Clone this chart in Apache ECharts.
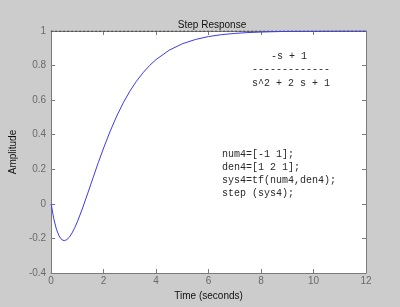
<!DOCTYPE html>
<html><head><meta charset="utf-8">
<script src="https://cdn.jsdelivr.net/npm/echarts@6/dist/echarts.min.js"></script>
<style>html,body{margin:0;padding:0;background:#cccccc;}#c{width:400px;height:307px;}</style>
</head><body><div id="c"></div>
<script>
// time (s) and amplitude
const timeS = [0,0.1,0.2,0.3,0.4,0.5,0.6,0.7,0.8,0.9,1.0,1.2,1.4,1.6,1.8,2.0,2.25,2.5,2.75,3.0,3.25,3.5,3.75,4.0,4.5,5.0,5.5,6.0,6.5,7.0,7.5,8.0,8.5,9.0,10.0,11.0,12.0];
const amplitude = [0,-0.086,-0.146,-0.185,-0.207,-0.213,-0.207,-0.192,-0.168,-0.138,-0.104,-0.024,0.063,0.152,0.240,0.323,0.420,0.508,0.585,0.652,0.709,0.758,0.800,0.835,0.889,0.926,0.951,0.968,0.979,0.986,0.991,0.994,0.996,0.998,0.999,1.0,1.0];
const steadyX = [0, 12];
const steadyY = [1, 1];
const xTicks = {min: 0, max: 12, interval: 2};
const yTicks = {min: -0.4, max: 1, interval: 0.2};
const tfLines = ['-s + 1', '-------------', 's^2 + 2 s + 1'];
const codeLines = ['num4=[-1 1];', 'den4=[1 2 1];', 'sys4=tf(num4,den4);', 'step (sys4);'];
const titleText = 'Step Response';
const xName = 'Time (seconds)';
const yName = 'Amplitude';

const chart = echarts.init(document.getElementById('c'), null, {renderer: 'canvas'});
const axisGrey = '#7a7a7a';
const labelGrey = '#6a6a6a';
const font = 'Liberation Sans, Arial, sans-serif';
const mono = 'Liberation Mono, Courier New, monospace';
function fmt(v){ return (Math.round(v*10)/10).toString(); }
function common(){
  return {
    axisLine: {show: true, onZero: false, lineStyle: {color: axisGrey, width: 1}},
    axisTick: {show: true, inside: true, length: 4, lineStyle: {color: axisGrey}},
    splitLine: {show: false}
  };
}
const graphics = [];
const tfX = [271, 252, 252];
const tfY = [57, 70, 84];
tfLines.forEach((t, i) => graphics.push({type: 'text', left: tfX[i], top: tfY[i] - 6, style: {text: t, font: '10px ' + mono, fill: '#2a2a2a'}}));
codeLines.forEach((t, i) => graphics.push({type: 'text', left: 222, top: 149 + i * 13, style: {text: t, font: '10px ' + mono, fill: '#2a2a2a'}}));
chart.setOption({
  backgroundColor: '#cccccc',
  animation: false,
  title: {text: titleText, left: 207, textAlign: 'center', top: 15, textStyle: {fontSize: 10, fontWeight: 'normal', color: '#111', fontFamily: font}},
  grid: {left: 48, right: 34, top: 31, bottom: 34, show: true, backgroundColor: '#ffffff', borderWidth: 0},
  xAxis: [
    Object.assign({type: 'value', position: 'bottom', min: xTicks.min, max: xTicks.max, interval: xTicks.interval,
      name: xName, nameLocation: 'middle', nameGap: 15, nameTextStyle: {fontSize: 10, color: '#111', fontFamily: font},
      axisLabel: {fontSize: 10, color: labelGrey, margin: 3, fontFamily: font}}, common()),
    Object.assign({type: 'value', position: 'top', min: xTicks.min, max: xTicks.max, interval: xTicks.interval,
      axisLabel: {show: false}}, common())
  ],
  yAxis: [
    Object.assign({type: 'value', position: 'left', min: yTicks.min, max: yTicks.max, interval: yTicks.interval,
      name: yName, nameLocation: 'middle', nameGap: 29, nameTextStyle: {fontSize: 10, color: '#111', fontFamily: font},
      axisLabel: {fontSize: 10, color: labelGrey, margin: 5, fontFamily: font, formatter: fmt}}, common()),
    Object.assign({type: 'value', position: 'right', min: yTicks.min, max: yTicks.max, interval: yTicks.interval,
      axisLabel: {show: false}}, common())
  ],
  series: [
    {type: 'line', data: steadyX.map((x, i) => [x, steadyY[i]]), symbol: 'none', z: 1,
      lineStyle: {color: '#333', width: 1, type: [2, 2]}},
    {type: 'line', data: timeS.map((x, i) => [x, amplitude[i]]), symbol: 'none', smooth: false, z: 3,
      lineStyle: {color: '#3a3aee', width: 1}}
  ],
  graphic: graphics
});
</script></body></html>
